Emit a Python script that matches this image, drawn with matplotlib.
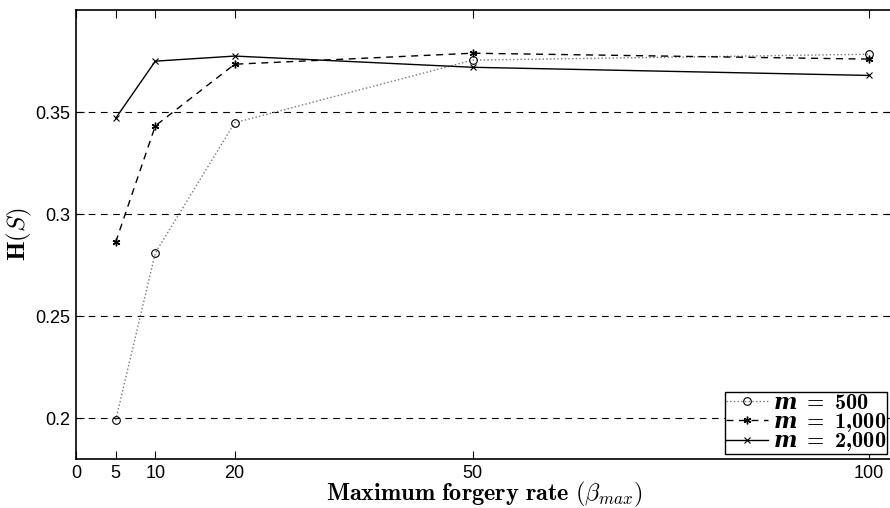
import numpy as np
import matplotlib
matplotlib.use("Agg")
import matplotlib.pyplot as plt

# Data ---------------------------------------------------------------------------------------------
beta_max = [5, 10, 20, 50, 100]
h_m500   = [0.199, 0.281, 0.3448, 0.3755, 0.3784]
h_m1000  = [0.2863, 0.3433, 0.3735, 0.3789, 0.3760]
h_m2000  = [0.347, 0.375, 0.3775, 0.372, 0.368]

x_ticks  = [0, 5, 10, 20, 50, 100]
y_ticks  = [0.2, 0.25, 0.3, 0.35]
y_labels = ["0.2", "0.25", "0.3", "0.35"]

# Plot ---------------------------------------------------------------------------------------------
plt.rcParams["font.family"]       = ["Liberation Sans", "DejaVu Sans"]
plt.rcParams["mathtext.fontset"]  = "custom"
plt.rcParams["mathtext.rm"]       = "cmr10"
plt.rcParams["mathtext.it"]       = "cmmi10"
plt.rcParams["mathtext.bf"]       = "cmb10"
plt.rcParams["mathtext.bfit"]     = "DejaVu Serif:italic:bold"
plt.rcParams["mathtext.fallback"] = "cm"

fig = plt.figure(figsize=(8.9, 5.08), dpi=100)
ax  = fig.add_axes([0.0854, 0.0965, 0.918, 0.8835])

ax.plot(beta_max, h_m500,  linestyle=":",  color="#777777", linewidth=1.0,
        marker="o", markersize=5.5, markerfacecolor="none", markeredgecolor="black",
        markeredgewidth=0.8, label=r"$\mathbfit{m}\ \mathbf{=\ 500}$")
ax.plot(beta_max, h_m1000, linestyle="--", color="black", linewidth=1.0, dashes=(5, 4),
        marker=(6, 2, 0), markersize=5.5, markeredgewidth=1.0,
        label=r"$\mathbfit{m}\ \mathbf{=\ 1{,}000}$")
ax.plot(beta_max, h_m2000, linestyle="-",  color="black", linewidth=1.0,
        marker="x", markersize=4, markeredgewidth=0.8,
        label=r"$\mathbfit{m}\ \mathbf{=\ 2{,}000}$")

for y in y_ticks:
    ax.axhline(y, color="black", linestyle="--", dashes=(6, 5), linewidth=0.8, zorder=0)

ax.set_xlim(0, 103)
ax.set_ylim(0.18, 0.40)
ax.set_xticks(x_ticks)
ax.set_yticks(y_ticks)
ax.set_yticklabels(y_labels)
ax.tick_params(direction="in", length=6, width=0.8, labelsize=13, top=True, right=True, pad=4)
for s in ax.spines.values():
    s.set_linewidth(1.2)

ax.set_xlabel(r"$\mathbf{Maximum\ forgery\ rate}\ (\beta_{max})$", fontsize=17.5, labelpad=-1,
              math_fontfamily="cm")
ax.set_ylabel(r"$\mathbf{H}(S)$", fontsize=18, labelpad=1, math_fontfamily="cm")

leg = ax.legend(loc="lower right", bbox_to_anchor=(0.993, 0.01), fontsize=16,
                frameon=True, fancybox=False, edgecolor="black", framealpha=1,
                borderpad=0.05, labelspacing=-0.15, handlelength=1.9, handletextpad=0.2,
                borderaxespad=0.0)
leg.get_frame().set_linewidth(1.0)

fig.savefig("out.png", dpi=100)
